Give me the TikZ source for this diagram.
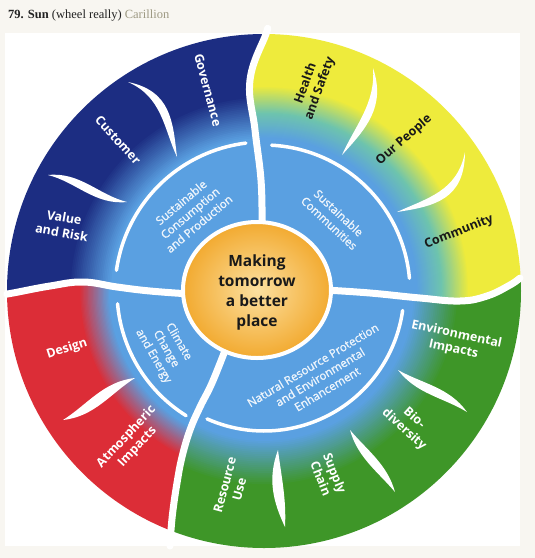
\documentclass[tikz,border=0pt]{standalone}
\usepackage{fontspec}
\setmainfont{Liberation Serif}
\newfontfamily\wheelfont{Open Sans}
\newfontfamily\wheelmed{Open Sans}[FakeBold=1.2]
\definecolor{pagebg}{HTML}{F8F6F1}
\definecolor{navy}{HTML}{1C2D82}
\definecolor{lb}{HTML}{5AA0E1}
\definecolor{yel}{HTML}{EEEB3C}
\definecolor{tealmix}{HTML}{6EC4AE}
\definecolor{grn}{HTML}{3E9628}
\definecolor{rd}{HTML}{DC2D37}
\definecolor{orgL}{HTML}{FCE0A0}
\definecolor{orgD}{HTML}{F2AA30}
\definecolor{innertxt}{HTML}{EEF5FC}
\definecolor{ttl}{HTML}{222222}
\definecolor{carl}{HTML}{9E9A84}
\newcommand\ringgrad[4]{%
  \foreach \i in {0,...,24}{%
    \pgfmathsetmacro\rr{#4-(#4-#3)*\i/24}%
    \pgfmathtruncatemacro\pp{100-\i*100/24}%
    \fill[#2!\pp!#1] (264,291) circle (\rr);
  }%
}
\newcommand\swoosh[7]{%
  \pgfmathsetmacro\ddx{#3-#1}\pgfmathsetmacro\ddy{#4-#2}%
  \pgfmathsetmacro\ll{sqrt(\ddx*\ddx+\ddy*\ddy)}%
  \pgfmathsetmacro\nx{-\ddy/\ll}\pgfmathsetmacro\ny{\ddx/\ll}%
  \fill[white] (#1,#2) .. controls ({#1+0.35*\ddx+(#5+#7)*\nx},{#2+0.35*\ddy+(#5+#7)*\ny}) and ({#1+0.65*\ddx+(#6+#7)*\nx},{#2+0.65*\ddy+(#6+#7)*\ny}) .. (#3,#4)
    .. controls ({#1+0.65*\ddx+(#6-#7)*\nx},{#2+0.65*\ddy+(#6-#7)*\ny}) and ({#1+0.35*\ddx+(#5-#7)*\nx},{#2+0.35*\ddy+(#5-#7)*\ny}) .. (#1,#2) -- cycle;
}
\tikzset{
  divline/.style={white, line width=7pt, line cap=round, line join=round},
  arcline/.style={white, line width=3.5pt, line cap=round},
  outerlbl/.style={font=\wheelfont\bfseries\fontsize{12.5}{15}\selectfont, text=white, align=center, inner sep=0pt},
  yellbl/.style={outerlbl, text=black!90},
  innerlbl/.style={font=\wheelmed\fontsize{11.5}{14}\selectfont, text=innertxt, align=center, inner sep=0pt},
}
\begin{document}
\begin{tikzpicture}[x=1pt,y=-1pt]
\useasboundingbox (0,0) rectangle (535,558);
\fill[pagebg] (0,0) rectangle (535,558);
\fill[white] (5,33) rectangle (520,546);
% blue quadrant
\begin{scope}
\clip (257,290) -- (190,294) -- (150,291) -- (117,287) -- (83,282) -- (50,286) -- (13,293) -- (0,294) -- (0,0) -- (267,0) -- (266,34) -- (250,80) -- (255,130) -- (261,180) -- (262,222) -- cycle;
\clip (264,291) circle (257);
\fill[navy] (264,291) circle (260);
\ringgrad{lb}{navy}{153}{195}
\end{scope}
% yellow quadrant
\begin{scope}
\clip (257,290) -- (262,222) -- (261,180) -- (255,130) -- (250,80) -- (266,34) -- (267,0) -- (535,0) -- (535,276) -- (510,285) -- (487,296) -- (460,301) -- (420,298) -- (370,293) -- (325,290) -- cycle;
\clip (264,291) circle (257);
\fill[yel] (264,291) circle (260);
\ringgrad{tealmix}{yel}{178}{205}
\ringgrad{lb}{tealmix}{153}{178}
\end{scope}
% green quadrant
\begin{scope}
\clip (257,290) -- (325,290) -- (370,293) -- (420,298) -- (460,301) -- (487,296) -- (510,285) -- (535,276) -- (535,558) -- (169,558) -- (171,530) -- (173,510) -- (177,483) -- (182,457) -- (190,430) -- (200,407) -- (212,383) -- (226,348) -- cycle;
\clip (264,291) circle (257);
\fill[grn] (264,291) circle (260);
\ringgrad{lb}{grn}{150}{195}
\end{scope}
% red quadrant
\begin{scope}
\clip (257,290) -- (226,348) -- (212,383) -- (200,407) -- (190,430) -- (182,457) -- (177,483) -- (173,510) -- (171,530) -- (169,558) -- (0,558) -- (0,294) -- (13,293) -- (50,286) -- (83,282) -- (117,287) -- (150,291) -- (190,294) -- cycle;
\clip (264,291) circle (257);
\fill[rd] (264,291) circle (260);
\ringgrad{lb}{rd}{155}{185}
\end{scope}
% swooshes
\swoosh{128}{82}{177}{157}{-26}{-10}{5.5}
\swoosh{48}{175}{127}{202}{-8}{8}{5.5}
\swoosh{373}{68}{342}{155}{-20}{-8}{5.5}
\swoosh{465}{152}{397}{212}{-30}{-15}{5.5}
\swoosh{398}{370}{467}{412}{5}{-6}{6}
\swoosh{350}{430}{395}{492}{4}{-4}{6}
\swoosh{278}{450}{285}{527}{6}{3}{7}
\swoosh{135}{378}{63}{420}{6}{-6}{7}
% inner arcs
\draw[arcline] plot[domain=97:172, samples=40, variable=\t] ({264+149*cos(\t)},{291-149*sin(\t)});
\draw[arcline] plot[domain=5:87, samples=40, variable=\t] ({264+146*cos(\t)},{291-146*sin(\t)});
\draw[arcline] plot[domain=185:238, samples=30, variable=\t] ({264+147*cos(\t)},{291-147*sin(\t)});
\draw[arcline] plot[domain=246:352, samples=50, variable=\t] ({264+140*cos(\t)},{291-140*sin(\t)});
% dividers
\draw[divline] plot[smooth, tension=0.7] coordinates {(267,30) (266,34) (250,80) (255,130) (261,180) (262,222)};
\draw[divline] plot[smooth, tension=0.7] coordinates {(7,294) (13,293) (50,286) (83,282) (117,287) (150,291) (190,294)};
\draw[divline] plot[smooth, tension=0.7] coordinates {(325,290) (370,293) (420,298) (460,301) (487,296) (510,285) (520,278)};
\draw[divline] plot[smooth, tension=0.7] coordinates {(226,348) (212,383) (200,407) (190,430) (182,457) (177,483) (173,510) (171,530) (170,546)};
% centre
\shade[inner color=orgL, outer color=orgD] (257,290) ellipse [x radius=74, y radius=68];
\draw[white, line width=4pt] (257,290) ellipse [x radius=74, y radius=68];
\node[font=\wheelfont\bfseries\fontsize{15.5}{20}\selectfont, text=black!90, align=center, inner sep=0pt] (centre) at (257,292) {Making\\tomorrow\\a better\\place};
% outer labels
\node[outerlbl, rotate=-75] (gov) at (208,90) {Governance};
\node[outerlbl, rotate=-48] (cust) at (118,140) {Customer};
\node[outerlbl, rotate=-10] (val) at (63,225) {Value\\and Risk};
\node[yellbl, rotate=70] (hs) at (313,86) {Health\\and Safety};
\node[yellbl, rotate=41] (op) at (404,140) {Our People};
\node[yellbl, rotate=22] (comm) at (459,232) {Community};
\node[outerlbl, rotate=-12] (env) at (455,342) {Environmental\\Impacts};
\node[outerlbl, rotate=-42] (bio) at (409,424) {Bio-\\diversity};
\node[outerlbl, rotate=-68] (sup) at (328,476) {Supply\\Chain};
\node[outerlbl, rotate=75] (res) at (232,487) {Resource\\Use};
\node[outerlbl, rotate=47] (atm) at (132,442) {Atmospheric\\Impacts};
\node[outerlbl, rotate=18] (des) at (67,349) {Design};
% inner labels
\node[innerlbl, rotate=40] (scp) at (190,213) {Sustainable\\Consumption\\and Production};
\node[innerlbl, rotate=-43] (sc) at (334,218) {Sustainable\\Communities};
\node[innerlbl, rotate=-60, font=\wheelmed\fontsize{11.5}{14.5}\selectfont] (cce) at (166,349) {Climate\\Change\\and Energy};
\node[innerlbl, rotate=31] (nrp) at (320,377) {Natural Resource Protection\\and Environmental\\Enhancement};
% title
\node[anchor=base west, inner sep=0pt, font=\fontsize{12.5}{14}\selectfont, text=ttl] (title) at (8,18) {\textbf{79. Sun} (wheel really) \textcolor{carl}{Carillion}};
\end{tikzpicture}
\end{document}
